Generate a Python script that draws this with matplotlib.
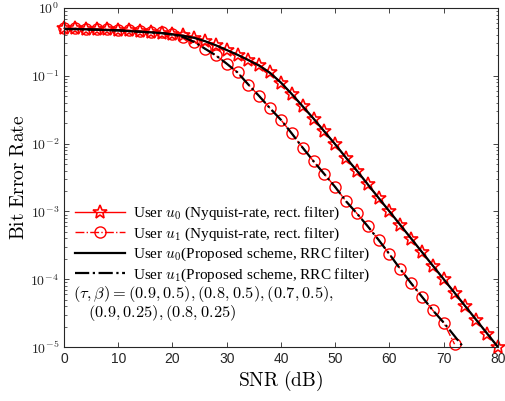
import numpy as np
import matplotlib
matplotlib.use("Agg")
import matplotlib.pyplot as plt
from matplotlib.ticker import FuncFormatter, LogLocator, NullFormatter

plt.rcParams['font.family'] = ['Liberation Serif', 'DejaVu Serif']
plt.rcParams['mathtext.fontset'] = 'cm'

# SNR grid (dB)
snr = np.arange(0, 82, 2)

# simulated BER, Nyquist-rate with rect. filter
ber_u0_sim = [0.501, 0.501, 0.495, 0.490, 0.484, 0.479, 0.468, 0.457, 0.447, 0.432,
              0.417, 0.398, 0.363, 0.324, 0.282, 0.240, 0.204, 0.174, 0.145, 0.112,
              0.0794, 0.0537, 0.0355, 0.0234, 0.0151, 0.00977, 0.00617, 0.00398, 0.00251, 0.00158,
              1.0e-3, 6.31e-4, 3.98e-4, 2.51e-4, 1.58e-4, 1.0e-4, 6.31e-5, 3.98e-5, 2.51e-5, 1.58e-5,
              1.0e-5]
ber_u1_sim = [0.501, 0.501, 0.495, 0.490, 0.484, 0.479, 0.468, 0.457, 0.447, 0.437,
              0.417, 0.372, 0.316, 0.251, 0.200, 0.151, 0.112, 0.0741, 0.0501, 0.0331,
              0.0224, 0.0141, 0.00871, 0.00550, 0.00355, 0.00229, 0.00141, 9.33e-4, 6.03e-4, 3.80e-4,
              2.34e-4, 1.41e-4, 8.71e-5, 5.50e-5, 3.47e-5, 2.29e-5, 1.10e-5]

# proposed scheme, RRC filter
ber_u0_rrc = [0.490, 0.490, 0.484, 0.479, 0.473, 0.468, 0.457, 0.447, 0.437, 0.427,
              0.407, 0.389, 0.363, 0.324, 0.282, 0.240, 0.204, 0.170, 0.141, 0.110,
              0.0794, 0.0537, 0.0355, 0.0234, 0.0151, 0.00977, 0.00617, 0.00398, 0.00251, 0.00158,
              1.0e-3, 6.31e-4, 3.98e-4, 2.51e-4, 1.58e-4, 1.0e-4, 6.31e-5, 3.98e-5, 2.51e-5, 1.58e-5,
              1.0e-5]
ber_u1_rrc = [0.490, 0.490, 0.484, 0.479, 0.473, 0.468, 0.457, 0.447, 0.437, 0.427,
              0.407, 0.372, 0.316, 0.251, 0.200, 0.151, 0.112, 0.0741, 0.0501, 0.0331,
              0.0224, 0.0141, 0.00871, 0.00550, 0.00355, 0.00229, 0.00141, 9.33e-4, 6.03e-4, 3.80e-4,
              2.34e-4, 1.41e-4, 8.71e-5, 5.50e-5, 3.47e-5, 2.29e-5, 1.45e-5, 9.12e-6]

fig = plt.figure(figsize=(5.05, 4.01), dpi=100)
ax = fig.add_axes([0.1267, 0.1347, 0.8593, 0.8453])

ax.semilogy(snr[:len(ber_u0_sim)], ber_u0_sim, '-', color='red', marker='*', ms=10,
            mfc='none', mew=1.2, lw=1.0, clip_on=False,
            label=r'User $u_0$ (Nyquist-rate, rect. filter)')
ax.semilogy(snr[:len(ber_u1_sim)], ber_u1_sim, '-.', color='red', marker='o', ms=8,
            mfc='none', mew=1.0, lw=1.0, clip_on=False,
            label=r'User $u_1$ (Nyquist-rate, rect. filter)')
ax.semilogy(snr[:len(ber_u0_rrc)], ber_u0_rrc, '-', color='black', lw=1.6,
            label=r'User $u_0$(Proposed scheme, RRC filter)')
ax.semilogy(snr[:len(ber_u1_rrc)], ber_u1_rrc, '-.', color='black', lw=1.6,
            label=r'User $u_1$(Proposed scheme, RRC filter)')

ax.set_xlim(0, 80)
ax.set_ylim(1e-5, 1)
ax.set_xticks(np.arange(0, 90, 10))
ax.yaxis.set_major_locator(LogLocator(base=10, numticks=10))
ax.yaxis.set_minor_locator(LogLocator(base=10, subs=np.arange(2, 10), numticks=10))
ax.yaxis.set_minor_formatter(NullFormatter())
ax.yaxis.set_major_formatter(FuncFormatter(lambda v, p: r'$\mathsf{10^{%d}}$' % int(round(np.log10(v)))))

grey = '#262626'
for s in ax.spines.values():
    s.set_color(grey)
    s.set_linewidth(0.8)
ax.tick_params(which='both', direction='in', top=True, right=True, colors=grey)
ax.tick_params(which='major', length=3.5, width=0.6, labelsize=10)
ax.tick_params(which='minor', length=1.8, width=0.5)
for lab in ax.get_xticklabels():
    lab.set_family('Liberation Sans')

ax.set_xlabel(r'$\mathrm{SNR\ (dB)}$', fontsize=14, labelpad=2)
ax.set_ylabel(r'$\mathrm{Bit\ Error\ Rate}$', fontsize=14, labelpad=2)

leg = ax.legend(loc='upper left', bbox_to_anchor=(0.0, 0.45), frameon=False,
                fontsize=11, handlelength=3.3, labelspacing=0.2, handletextpad=0.5,
                borderaxespad=0.3)

ax.text(0.021, 0.156, r'$(\tau,\beta)=(0.9,0.5),(0.8,0.5),(0.7,0.5),$',
        transform=ax.transAxes, fontsize=11.8, va='center', ha='left')
ax.text(0.055, 0.099, r'$(0.9,0.25),(0.8,0.25)$',
        transform=ax.transAxes, fontsize=11.8, va='center', ha='left')

fig.savefig('out.png', dpi=100)
